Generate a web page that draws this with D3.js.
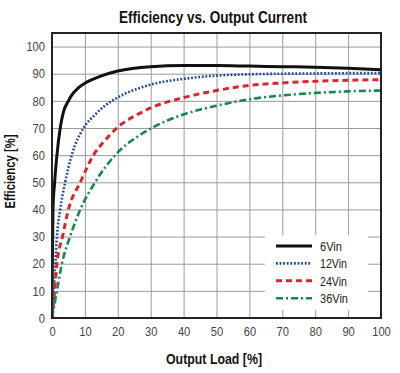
<!DOCTYPE html>
<html>
<head>
<meta charset="utf-8">
<script src="https://cdn.jsdelivr.net/npm/d3@7"></script>
<style>
  body { margin: 0; background: #fff; }
  svg { display: block; }
</style>
</head>
<body>
<div id="chart"></div>
<script>
// efficiency curves, values
let seriesNames = ["6Vin", "12Vin", "24Vin", "36Vin"];

let load6 = [0, 0.1, 0.3, 0.8, 1.5, 2.5, 3.5, 5, 6, 8, 10, 12, 15, 20, 30, 40, 50, 60, 70, 80, 90, 100];
let eff6 = [0, 20, 40, 50, 60, 70, 76, 80, 82.1, 84.8, 86.5, 87.7, 89.2, 91, 92.6, 93, 93, 92.8, 92.6, 92.4, 92, 91.5];

let load12 = [0, 0.5, 1, 1.5, 2.5, 4, 6, 9.6, 13, 16.2, 20, 26.8, 30, 40, 50, 60, 70, 80, 90, 100];
let eff12 = [0, 10, 20, 30, 40, 50, 60, 70, 74.8, 78.3, 81.3, 84.8, 86, 88.1, 89.3, 89.8, 90, 90.1, 90.2, 90.2];

let load24 = [0, 0.8, 1.5, 3.2, 5, 8.6, 12.6, 16, 19.7, 26.8, 30, 40, 50, 60, 70, 80, 90, 100];
let eff24 = [0, 10, 20, 30, 40, 50, 60, 65.3, 70, 75.5, 77.4, 81.2, 83.8, 85.7, 86.6, 87.2, 87.6, 87.8];

let load36 = [0, 1.5, 3, 5.5, 8.6, 13.1, 19.2, 26.8, 30, 40, 50, 60, 70, 80, 90, 100];
let eff36 = [0, 10, 20, 30, 40, 50, 60, 67.5, 69.8, 75, 78.2, 80.6, 82, 82.9, 83.5, 83.8];

let xTicks = [0, 10, 20, 30, 40, 50, 60, 70, 80, 90, 100];
let yTicks = [0, 10, 20, 30, 40, 50, 60, 70, 80, 90, 100];

let loads = [load6, load12, load24, load36];
let effs = [eff6, eff12, eff24, eff36];
let colors = ["#111111", "#1d4a9e", "#d9262c", "#16884c"];
let dashes = [null, "1.8,1.8", "6,4", "7,3,2,3"];
let widths = [3, 2.6, 3, 2.6];
let legendWidths = [22, 27, 27, 28];

let width = 400, height = 373;
let margin = { top: 33, right: 19, bottom: 55, left: 52 };

let svg = d3.select("#chart")
    .append("svg")
    .attr("width", width)
    .attr("height", height);

let x = d3.scaleLinear().domain([0, 100]).range([margin.left, width - margin.right]);
let y = d3.scaleLinear().domain([0, 105]).range([height - margin.bottom, margin.top]);

let font = "'Liberation Sans', Arial, sans-serif";

// grid
svg.append("g")
    .attr("class", "grid")
    .attr("transform", "translate(0," + (height - margin.bottom) + ")")
    .call(d3.axisBottom(x).tickValues(xTicks).tickSize(-(height - margin.bottom - margin.top)).tickFormat(""))
    .call(g => g.select(".domain").remove())
    .call(g => g.selectAll("line").attr("stroke", "#9a9a9a").attr("stroke-width", 1));

svg.append("g")
    .attr("class", "grid")
    .attr("transform", "translate(" + margin.left + ",0)")
    .call(d3.axisLeft(y).tickValues(yTicks).tickSize(-(width - margin.right - margin.left)).tickFormat(""))
    .call(g => g.select(".domain").remove())
    .call(g => g.selectAll("line").attr("stroke", "#9a9a9a").attr("stroke-width", 1));

// legend box hides the grid behind it
let legend = svg.append("g").attr("transform", "translate(265,235)");
legend.append("rect")
    .attr("width", 103)
    .attr("height", 75)
    .attr("fill", "#fff");

// curves
let line = d3.line()
    .x(d => x(d[0]))
    .y(d => y(d[1]))
    .curve(d3.curveMonotoneX);

let plot = svg.append("g");
plot.append("clipPath").attr("id", "clip")
    .append("rect")
    .attr("x", margin.left).attr("y", margin.top)
    .attr("width", width - margin.left - margin.right)
    .attr("height", height - margin.top - margin.bottom);

seriesNames.forEach((name, i) => {
    let pts = loads[i].map((l, j) => [l, effs[i][j]]);
    plot.append("path")
        .datum(pts)
        .attr("clip-path", "url(#clip)")
        .attr("fill", "none")
        .attr("stroke", colors[i])
        .attr("stroke-width", widths[i])
        .attr("stroke-dasharray", dashes[i])
        .attr("d", line);
});

// legend entries
seriesNames.forEach((name, i) => {
    let row = legend.append("g").attr("transform", "translate(0," + (11 + i * 17.4) + ")");
    row.append("line")
        .attr("x1", 11).attr("x2", 47)
        .attr("stroke", colors[i])
        .attr("stroke-width", widths[i])
        .attr("stroke-dasharray", dashes[i]);
    row.append("text")
        .attr("x", 55)
        .attr("dy", "0.36em")
        .attr("font-family", font)
        .attr("font-size", 13.5)
        .attr("textLength", legendWidths[i])
        .attr("lengthAdjust", "spacingAndGlyphs")
        .attr("fill", "#222")
        .text(name);
});

// frame
svg.append("rect")
    .attr("x", margin.left)
    .attr("y", margin.top)
    .attr("width", width - margin.left - margin.right)
    .attr("height", height - margin.top - margin.bottom)
    .attr("fill", "none")
    .attr("stroke", "#222")
    .attr("stroke-width", 2);

// tick labels
svg.append("g")
    .attr("transform", "translate(0," + (height - margin.bottom) + ")")
    .call(d3.axisBottom(x).tickValues(xTicks).tickSize(0).tickPadding(9))
    .call(g => g.select(".domain").remove())
    .call(g => g.selectAll("text")
        .attr("font-family", font).attr("font-size", 13).attr("fill", "#444")
        .attr("textLength", d => String(d).length * 6.2)
        .attr("lengthAdjust", "spacingAndGlyphs"));

svg.append("g")
    .attr("transform", "translate(" + margin.left + ",0)")
    .call(d3.axisLeft(y).tickValues(yTicks).tickSize(0).tickPadding(7))
    .call(g => g.select(".domain").remove())
    .call(g => g.selectAll("text")
        .attr("font-family", font).attr("font-size", 13).attr("fill", "#444")
        .attr("textLength", d => String(d).length * 6.2)
        .attr("lengthAdjust", "spacingAndGlyphs"));

// titles
svg.append("text")
    .attr("x", 213)
    .attr("y", 23)
    .attr("text-anchor", "middle")
    .attr("font-family", font)
    .attr("font-weight", "bold")
    .attr("font-size", 16.5)
    .attr("textLength", 188)
    .attr("lengthAdjust", "spacingAndGlyphs")
    .attr("fill", "#111")
    .text("Efficiency vs. Output Current");

svg.append("text")
    .attr("x", 214)
    .attr("y", 364)
    .attr("text-anchor", "middle")
    .attr("font-family", font)
    .attr("font-weight", "bold")
    .attr("font-size", 15)
    .attr("textLength", 96)
    .attr("lengthAdjust", "spacingAndGlyphs")
    .attr("fill", "#111")
    .text("Output Load [%]");

svg.append("text")
    .attr("transform", "translate(15,171.5) rotate(-90)")
    .attr("text-anchor", "middle")
    .attr("font-family", font)
    .attr("font-weight", "bold")
    .attr("font-size", 15)
    .attr("textLength", 74)
    .attr("lengthAdjust", "spacingAndGlyphs")
    .attr("fill", "#111")
    .text("Efficiency [%]");
</script>
</body>
</html>
